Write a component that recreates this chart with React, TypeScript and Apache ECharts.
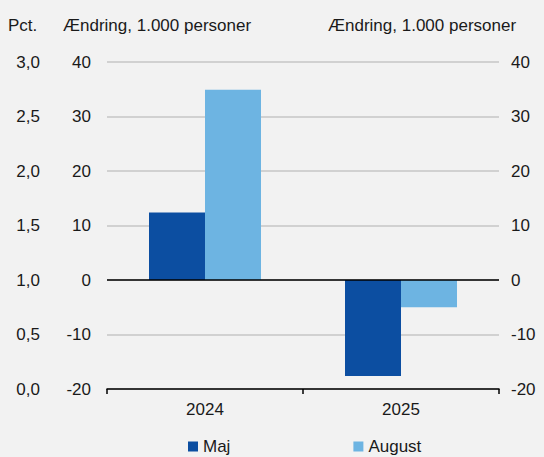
import React, { useEffect, useRef } from "react";
import * as echarts from "echarts";

const categories = ["2024", "2025"];
const majValues = [12.4, -17.6];
const augustValues = [34.9, -5.0];
const seriesNames = ["Maj", "August"];
const leftAxisTitle = "Pct.";
const countAxisTitle = "Ændring, 1.000 personer";

const FONT = "'Liberation Sans', Arial, sans-serif";
const TEXT = "#1a1a1a";

export default function App() {
  const ref = useRef<HTMLDivElement>(null);
  useEffect(() => {
    document.body.style.margin = "0";
    document.body.style.background = "#f2f2f2";
    const chart = echarts.init(ref.current!, null, { renderer: "svg" });
    chart.setOption({
      animation: false,
      backgroundColor: "#f2f2f2",
      textStyle: { fontFamily: FONT, color: TEXT },
      grid: { left: 107, right: 45, top: 62, bottom: 68 },
      legend: {
        left: 188,
        top: 438,
        padding: 0,
        itemWidth: 10,
        itemHeight: 10,
        itemGap: 123,
        icon: "rect",
        textStyle: { fontFamily: FONT, fontSize: 17, color: TEXT },
        data: seriesNames,
      },
      graphic: [
        { type: "text", left: 8, top: 17, style: { text: leftAxisTitle, font: `17px ${FONT}`, fill: TEXT } },
        { type: "text", left: 63, top: 17, style: { text: countAxisTitle, font: `17px ${FONT}`, fill: TEXT } },
        { type: "text", left: 328, top: 17, style: { text: countAxisTitle, font: `17px ${FONT}`, fill: TEXT } },
      ],
      xAxis: {
        type: "category",
        data: categories,
        boundaryGap: true,
        axisLine: { onZero: false, lineStyle: { color: "#000", width: 1.5 } },
        axisTick: { show: true, length: 5, lineStyle: { color: "#000", width: 1.5 } },
        axisLabel: { fontSize: 17, color: TEXT, margin: 12, fontFamily: FONT },
      },
      yAxis: [
        {
          type: "value",
          position: "left",
          min: -20,
          max: 40,
          interval: 10,
          axisLine: { show: false },
          axisTick: { show: false },
          axisLabel: { fontSize: 17, color: TEXT, margin: 16, fontFamily: FONT },
          splitLine: { lineStyle: { color: "#c6c6c6", width: 1.5 } },
        },
        {
          type: "value",
          position: "right",
          min: -20,
          max: 40,
          interval: 10,
          axisLine: { show: false },
          axisTick: { show: false },
          axisLabel: { fontSize: 17, color: TEXT, margin: 12, fontFamily: FONT },
          splitLine: { show: false },
        },
        {
          type: "value",
          position: "left",
          offset: 51,
          min: 0,
          max: 3,
          interval: 0.5,
          axisLine: { show: false },
          axisTick: { show: false },
          axisLabel: {
            fontSize: 17,
            color: TEXT,
            margin: 16,
            fontFamily: FONT,
            formatter: (v: number) => v.toFixed(1).replace(".", ","),
          },
          splitLine: { show: false },
        },
      ],
      series: [
        {
          name: seriesNames[0],
          type: "bar",
          data: majValues,
          barWidth: 56,
          barGap: "0%",
          itemStyle: { color: "#0c4ea1" },
          markLine: {
            silent: true,
            symbol: "none",
            label: { show: false },
            lineStyle: { color: "#000", width: 1.5, type: "solid" },
            data: [{ yAxis: 0 }],
          },
        },
        {
          name: seriesNames[1],
          type: "bar",
          data: augustValues,
          barWidth: 56,
          barGap: "0%",
          itemStyle: { color: "#6db4e2" },
        },
      ],
    });
    return () => chart.dispose();
  }, []);
  return <div ref={ref} style={{ width: 544, height: 457 }} />;
}
